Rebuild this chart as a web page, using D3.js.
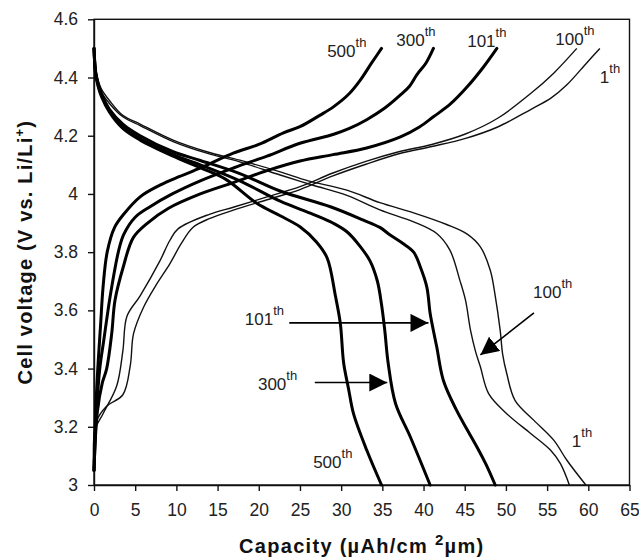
<!DOCTYPE html>
<html><head><meta charset="utf-8">
<script src="https://cdn.jsdelivr.net/npm/d3@7"></script>
<style>body{margin:0;background:#fff}svg{display:block}</style>
</head><body><svg id="c" width="639" height="558"></svg>
<script>
// ---- tick values ----
const xTicks = [0,5,10,15,20,25,30,35,40,45,50,55,60,65];
const yTicks = [3,3.2,3.4,3.6,3.8,4,4.2,4.4,4.6];

// ---- charge curves [capacity, voltage] ----
const charge1 = [[0,3.05],[0.33,3.22],[1.5,3.27],[3.5,3.31],[4.4,3.41],[4.8,3.52],[6,3.61],[7.6,3.69],[9.2,3.76],[10.6,3.83],[12,3.885],[14,3.915],[17,3.945],[21,3.98],[25,4.015],[29,4.062],[33,4.102],[37,4.138],[41,4.163],[45,4.19],[49,4.23],[53,4.29],[55.5,4.33],[57.4,4.375],[59.8,4.45],[61.4,4.5]];
const charge100 = [[0,3.05],[0.12,3.19],[1.1,3.245],[2.75,3.34],[3.5,3.46],[4,3.58],[5.6,3.65],[8,3.77],[9.2,3.84],[10.2,3.88],[14,3.93],[17,3.955],[21,3.99],[25,4.025],[29,4.072],[33,4.112],[37,4.145],[41,4.17],[45,4.205],[49,4.26],[53,4.345],[55.8,4.415],[58.6,4.5]];
const charge101 = [[0,3.05],[0.4,3.25],[1,3.35],[1.54,3.4],[2.15,3.52],[2.55,3.635],[3.56,3.75],[4.77,3.85],[6.5,3.9],[9,3.95],[12.9,4.0],[17,4.04],[21,4.08],[25,4.113],[29,4.135],[33.1,4.158],[37.2,4.196],[39.5,4.23],[41.2,4.265],[43.3,4.31],[45.3,4.368],[47.3,4.437],[48.9,4.5]];
const charge300 = [[0,3.05],[0.3,3.25],[0.7,3.4],[1.2,3.5],[1.7,3.6],[2.15,3.68],[2.95,3.8],[3.6,3.86],[5,3.92],[6.8,3.956],[9.5,4.0],[12.9,4.045],[17,4.09],[21,4.13],[25,4.174],[29.1,4.205],[31,4.225],[33.1,4.255],[35.3,4.295],[37.2,4.34],[38.3,4.37],[39.2,4.41],[40.3,4.45],[41.2,4.5]];
const charge500 = [[0,3.05],[0.2,3.25],[0.5,3.42],[0.8,3.55],[1.1,3.68],[1.6,3.8],[2.5,3.885],[3.6,3.93],[5.6,3.99],[8,4.03],[10.4,4.06],[13,4.09],[16.9,4.14],[20,4.17],[23,4.21],[25,4.231],[27.4,4.27],[29.1,4.3],[31,4.345],[32.3,4.39],[33.7,4.45],[34.9,4.5]];

// ---- discharge curves [capacity, voltage] ----
const discharge1 = [[0,4.5],[0.2,4.43],[0.5,4.39],[0.9,4.36],[1.9,4.32],[3.5,4.27],[5.6,4.24],[9.6,4.185],[13.7,4.145],[17.7,4.116],[22.6,4.076],[26,4.045],[30.7,4.013],[34.7,3.97],[38.8,3.935],[42.8,3.895],[45.3,3.862],[46.9,3.818],[48.1,3.738],[48.7,3.65],[49.3,3.532],[49.6,3.45],[50.1,3.383],[51.1,3.291],[53.4,3.222],[55.8,3.154],[57.4,3.085],[59.7,3.0]];
const discharge100 = [[0,4.5],[0.2,4.425],[0.5,4.385],[0.9,4.35],[1.9,4.31],[3.5,4.265],[5.6,4.235],[9.6,4.18],[13.7,4.14],[17.7,4.11],[22.6,4.065],[26.6,4.03],[30.7,3.995],[34.7,3.945],[38.8,3.904],[41.6,3.864],[43.2,3.807],[44.4,3.704],[45.1,3.634],[45.7,3.532],[46.3,3.46],[46.9,3.406],[47.9,3.314],[50.1,3.245],[53,3.177],[55.4,3.12],[56.6,3.074],[57.7,3.0]];
const discharge101 = [[0,4.5],[0.2,4.42],[0.5,4.38],[0.9,4.345],[1.9,4.29],[3.5,4.24],[5.6,4.2],[9.6,4.145],[12.9,4.115],[17.7,4.07],[22.6,4.01],[28.7,3.956],[32.7,3.91],[34.7,3.885],[35.9,3.86],[37.5,3.83],[38.8,3.8],[39.6,3.75],[40.4,3.68],[40.8,3.59],[41.2,3.53],[41.6,3.475],[42.4,3.36],[44,3.257],[45.3,3.19],[46.5,3.13],[47.6,3.07],[48.7,3.0]];
const discharge300 = [[0,4.5],[0.2,4.415],[0.5,4.375],[0.9,4.34],[1.9,4.285],[3.5,4.23],[5.6,4.19],[9.6,4.135],[12.9,4.1],[17.7,4.045],[22.6,3.975],[26.6,3.93],[29,3.9],[30.7,3.87],[32.3,3.82],[33.5,3.77],[34.4,3.7],[34.9,3.62],[35.3,3.53],[35.7,3.42],[36.6,3.28],[38.4,3.165],[40.8,3.0]];
const discharge500 = [[0,4.5],[0.2,4.41],[0.5,4.37],[0.9,4.335],[1.9,4.28],[3.5,4.225],[5.6,4.185],[9.6,4.13],[12.9,4.09],[16,4.05],[19.8,3.967],[22.6,3.925],[25,3.887],[27,3.835],[28.3,3.78],[29.3,3.65],[29.9,3.555],[30.3,3.42],[30.9,3.33],[31.5,3.245],[33.1,3.12],[34.9,3.0]];

// cycle grouping: thin = early cycles
const thinCurves = [charge1, charge100, discharge1, discharge100];
const thickCurves = [charge101, charge300, charge500, discharge101, discharge300, discharge500];

// ---- annotation labels [number, capacity, voltage] ----
const labelText = ["500","300","101","100","1","101","300","500","100","1"];
const labelX = [28.3,36.7,45.3,56.0,61.4,18.3,19.9,26.6,53.3,58.0];
const labelY = [4.471,4.509,4.506,4.512,4.382,3.55,3.327,3.058,3.643,3.13];

// ---- arrows [x1,y1,x2,y2] in data units ----
const arrows = [[23.7,3.557,40.6,3.557],[26.8,3.352,35.6,3.352],[53.4,3.591,46.9,3.447]];

const svg = d3.select("#c");
const m = {left:94, top:19.3, right:629.5, bottom:485};
const x = d3.scaleLinear().domain([0,65]).range([m.left, m.right]);
const y = d3.scaleLinear().domain([3,4.6]).range([m.bottom, m.top]);

const FONT = "'Liberation Sans', Arial, Helvetica, sans-serif";

// frame
svg.append("rect").attr("x", m.left).attr("y", m.top)
  .attr("width", m.right - m.left).attr("height", m.bottom - m.top)
  .attr("fill", "none").attr("stroke", "#111").attr("stroke-width", 1.4);

// axes
const xAxis = d3.axisBottom(x).tickValues(xTicks).tickSizeInner(6).tickSizeOuter(0).tickPadding(13).tickFormat(d3.format("d"));
const yAxis = d3.axisLeft(y).tickValues(yTicks).tickSizeInner(6).tickSizeOuter(0).tickPadding(10).tickFormat(d => d3.format("~g")(d));
const gx = svg.append("g").attr("transform", `translate(0,${m.bottom})`).call(xAxis);
const gy = svg.append("g").attr("transform", `translate(${m.left},0)`).call(yAxis);
[gx, gy].forEach(g => {
  g.select(".domain").attr("stroke", "#111").attr("stroke-width", 1.4);
  g.selectAll(".tick line").attr("stroke", "#111").attr("stroke-width", 1.4);
  g.selectAll(".tick text").attr("fill", "#222").style("font-family", FONT).style("font-size", "17.5px");
});

// curves
const line = d3.line().x(d => x(d[0])).y(d => y(d[1])).curve(d3.curveCatmullRom.alpha(0.5));
const plot = svg.append("g");
plot.selectAll("path.thin").data(thinCurves).join("path").attr("class", "thin")
  .attr("d", line).attr("fill", "none").attr("stroke", "#111").attr("stroke-width", 1.4)
  .attr("stroke-linejoin", "round");
plot.selectAll("path.thick").data(thickCurves).join("path").attr("class", "thick")
  .attr("d", line).attr("fill", "none").attr("stroke", "#000").attr("stroke-width", 3)
  .attr("stroke-linejoin", "round").attr("stroke-linecap", "round");

// labels with superscript "th"
const lbl = svg.append("g").style("font-family", FONT).attr("fill", "#222");
labelText.forEach((t, i) => {
  const tx = lbl.append("text").attr("x", x(labelX[i])).attr("y", y(labelY[i])).style("font-size", "17px");
  tx.append("tspan").text(t);
  tx.append("tspan").attr("dy", -10).style("font-size", "13px").text("th");
});

// arrows
svg.append("defs").append("marker").attr("id", "ah")
  .attr("viewBox", "0 0 18 18").attr("refX", 18).attr("refY", 9)
  .attr("markerWidth", 18).attr("markerHeight", 18).attr("markerUnits", "userSpaceOnUse")
  .attr("orient", "auto")
  .append("path").attr("d", "M0,0 L18,9 L0,18 Z").attr("fill", "#000");
svg.append("g").selectAll("line").data(arrows).join("line")
  .attr("x1", d => x(d[0])).attr("y1", d => y(d[1]))
  .attr("x2", d => x(d[2])).attr("y2", d => y(d[3]))
  .attr("stroke", "#000").attr("stroke-width", 1.6).attr("marker-end", "url(#ah)");

// axis titles
const xt = svg.append("text").attr("x", (m.left + m.right) / 2).attr("y", 553)
  .attr("text-anchor", "middle").style("font-family", FONT).style("font-weight", "bold")
  .style("font-size", "20px").style("letter-spacing", "1.3px").attr("fill", "#111");
xt.append("tspan").text("Capacity (µAh/cm ");
xt.append("tspan").attr("dy", -8).style("font-size", "15px").text("2");
xt.append("tspan").attr("dy", 8).text("µm)");

const yt = svg.append("text").attr("transform", `translate(32,${(m.top + m.bottom) / 2}) rotate(-90)`)
  .attr("text-anchor", "middle").style("font-family", FONT).style("font-weight", "bold")
  .style("font-size", "20px").style("letter-spacing", "1.2px").attr("fill", "#111");
yt.append("tspan").text("Cell voltage (V vs. Li/Li");
yt.append("tspan").attr("dy", -8).style("font-size", "13px").text("+");
yt.append("tspan").attr("dy", 8).text(")");
</script>
</body></html>
